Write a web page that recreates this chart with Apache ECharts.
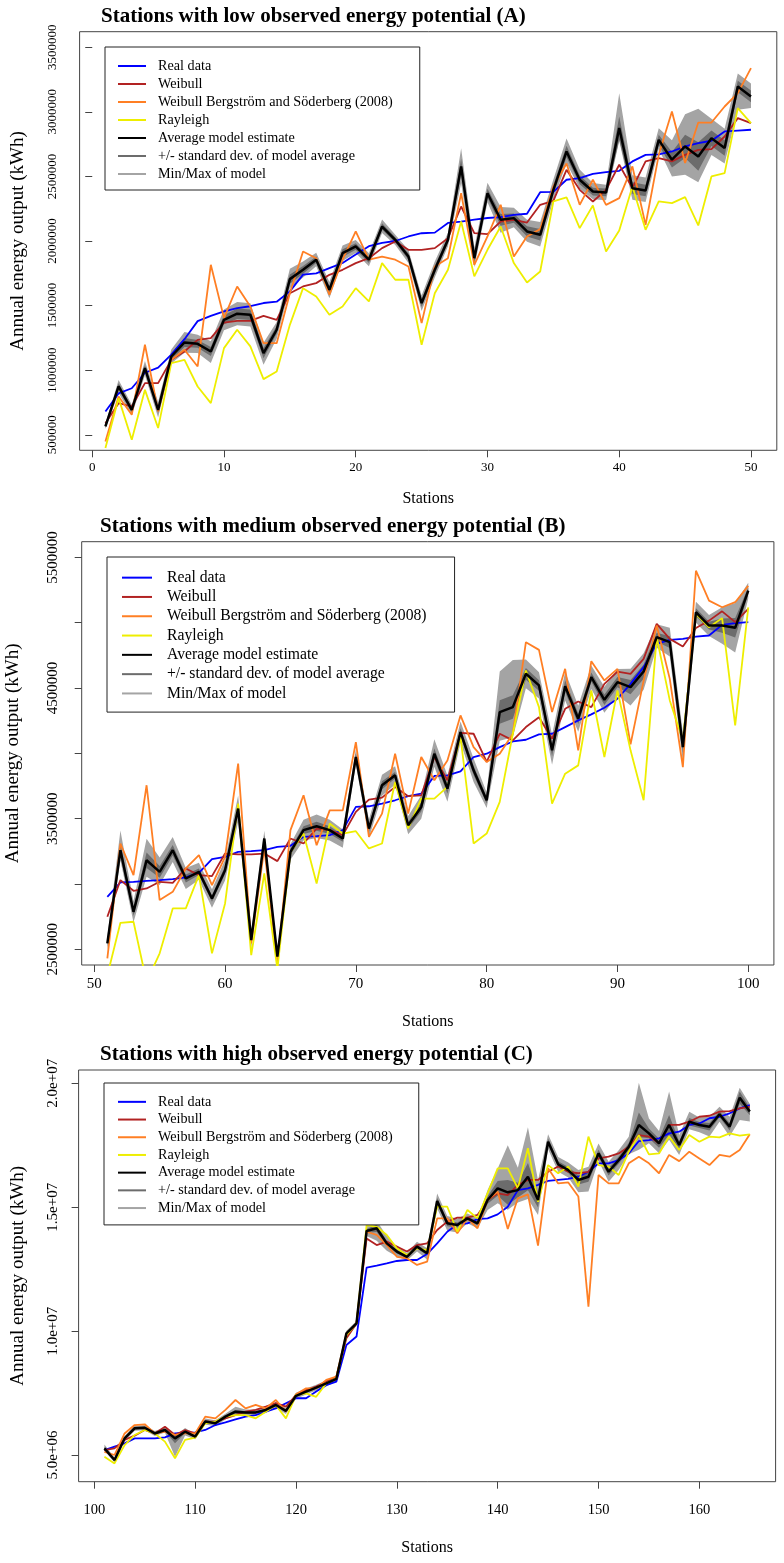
<!DOCTYPE html>
<html>
<head>
<meta charset="utf-8">
<title>Annual energy output by station</title>
<script src="https://cdn.jsdelivr.net/npm/echarts@6.0.0/dist/echarts.min.js"></script>
<style>
  html, body { margin: 0; padding: 0; background: #fff; }
  #main { width: 784px; height: 1563px; }
</style>
</head>
<body>
<div id="main"></div>
<script>
// all energy values below are in millions of kWh
var UNIT = 1e6;

// ---- panel A : stations 1..50
var firstA = 1;
var realA = [0.680, 0.820, 0.860, 0.980, 1.020, 1.120, 1.240, 1.380, 1.420, 1.455,
             1.480, 1.495, 1.520, 1.530, 1.610, 1.740, 1.750, 1.790, 1.830, 1.895,
             1.960, 1.985, 2.000, 2.035, 2.060, 2.065, 2.140, 2.150, 2.165, 2.178,
             2.185, 2.203, 2.211, 2.378, 2.380, 2.474, 2.487, 2.520, 2.533, 2.543,
             2.616, 2.667, 2.670, 2.693, 2.732, 2.758, 2.776, 2.848, 2.855, 2.861];
var weibA = [0.590, 0.745, 0.719, 0.900, 0.900, 1.080, 1.145, 1.235, 1.248, 1.369,
             1.382, 1.382, 1.421, 1.390, 1.596, 1.648, 1.674, 1.738, 1.777, 1.829,
             1.867, 1.945, 1.996, 1.932, 1.932, 1.945, 2.022, 2.267, 2.061, 2.053,
             2.151, 2.164, 2.143, 2.280, 2.311, 2.551, 2.396, 2.306, 2.396, 2.590,
             2.409, 2.616, 2.641, 2.616, 2.667, 2.706, 2.711, 2.809, 2.951, 2.912];
var wbsA  = [0.448, 0.797, 0.655, 1.197, 0.681, 1.080, 1.158, 1.029, 1.816, 1.403,
             1.648, 1.493, 1.209, 1.209, 1.596, 1.919, 1.867, 1.584, 1.855, 2.074,
             1.855, 1.880, 1.855, 1.803, 1.364, 1.803, 1.867, 2.370, 1.816, 2.035,
             2.280, 1.880, 2.035, 2.092, 2.422, 2.600, 2.280, 2.474, 2.280, 2.332,
             2.577, 2.125, 2.667, 3.003, 2.603, 2.917, 2.917, 3.041, 3.144, 3.338];
var rayA  = [0.397, 0.784, 0.461, 0.848, 0.552, 1.055, 1.080, 0.874, 0.745, 1.171,
             1.313, 1.184, 0.931, 0.990, 1.351, 1.635, 1.571, 1.429, 1.493, 1.635,
             1.532, 1.829, 1.700, 1.700, 1.197, 1.596, 1.777, 2.151, 1.726, 1.932,
             2.112, 1.829, 1.679, 1.764, 2.306, 2.337, 2.100, 2.275, 1.919, 2.082,
             2.422, 2.087, 2.306, 2.293, 2.340, 2.120, 2.500, 2.525, 3.028, 2.912];
var avgA  = [0.565, 0.874, 0.693, 1.016, 0.693, 1.106, 1.215, 1.204, 1.145, 1.390,
             1.437, 1.429, 1.132, 1.313, 1.705, 1.777, 1.855, 1.622, 1.906, 1.958,
             1.855, 2.112, 2.009, 1.880, 1.519, 1.777, 2.009, 2.577, 1.867, 2.370,
             2.164, 2.177, 2.074, 2.048, 2.396, 2.693, 2.474, 2.383, 2.376, 2.874,
             2.409, 2.391, 2.783, 2.629, 2.732, 2.654, 2.796, 2.719, 3.196, 3.119];
// band widths around the average (how far the grey reaches above / below)
var sdA   = [0.010, 0.025, 0.020, 0.025, 0.025, 0.025, 0.035, 0.030, 0.035, 0.035,
             0.040, 0.040, 0.040, 0.030, 0.035, 0.030, 0.025, 0.030, 0.030, 0.025,
             0.025, 0.025, 0.020, 0.025, 0.030, 0.030, 0.025, 0.060, 0.035, 0.035,
             0.045, 0.035, 0.040, 0.045, 0.035, 0.045, 0.035, 0.030, 0.030, 0.090,
             0.045, 0.045, 0.040, 0.060, 0.090, 0.110, 0.060, 0.060, 0.045, 0.045];
var mmUpA = [0.020, 0.050, 0.040, 0.055, 0.060, 0.055, 0.080, 0.070, 0.080, 0.080,
             0.090, 0.090, 0.080, 0.060, 0.080, 0.065, 0.055, 0.060, 0.060, 0.050,
             0.050, 0.055, 0.040, 0.050, 0.060, 0.065, 0.055, 0.140, 0.080, 0.080,
             0.100, 0.080, 0.090, 0.100, 0.080, 0.100, 0.080, 0.065, 0.060, 0.270,
             0.100, 0.100, 0.090, 0.150, 0.250, 0.370, 0.150, 0.150, 0.100, 0.100];
var mmDnA = [0.020, 0.050, 0.040, 0.055, 0.060, 0.055, 0.080, 0.070, 0.090, 0.080,
             0.090, 0.090, 0.090, 0.070, 0.070, 0.060, 0.050, 0.065, 0.060, 0.050,
             0.050, 0.050, 0.040, 0.050, 0.060, 0.060, 0.050, 0.130, 0.070, 0.070,
             0.100, 0.070, 0.080, 0.090, 0.080, 0.090, 0.070, 0.060, 0.060, 0.100,
             0.090, 0.090, 0.070, 0.130, 0.220, 0.200, 0.130, 0.120, 0.180, 0.090];
var xTicksA = [0, 10, 20, 30, 40, 50];
var yTicksA = [500000, 1000000, 1500000, 2000000, 2500000, 3000000, 3500000];
var yLabelsA = [500000, 1000000, 1500000, 2000000, 2500000, 3000000, 3500000];

// ---- panel B : stations 51..100
var firstB = 51;
var realB = [2.902, 3.012, 3.017, 3.024, 3.030, 3.037, 3.050, 3.086, 3.190, 3.208,
             3.246, 3.251, 3.259, 3.284, 3.292, 3.361, 3.366, 3.374, 3.412, 3.590,
             3.595, 3.616, 3.641, 3.672, 3.692, 3.827, 3.832, 3.862, 3.972, 3.997,
             4.048, 4.091, 4.104, 4.145, 4.150, 4.201, 4.252, 4.298, 4.349, 4.418,
             4.532, 4.660, 4.838, 4.869, 4.876, 4.894, 4.902, 4.983, 4.996, 5.004];
var weibB = [2.749, 3.030, 2.948, 2.966, 3.017, 3.009, 3.119, 3.068, 3.060, 3.233,
             3.226, 3.226, 3.233, 3.175, 3.348, 3.310, 3.424, 3.412, 3.374, 3.552,
             3.646, 3.661, 3.743, 3.672, 3.679, 3.972, 3.794, 4.156, 4.150, 3.934,
             4.150, 4.099, 4.201, 4.277, 4.112, 4.341, 4.397, 4.354, 4.532, 4.626,
             4.609, 4.723, 4.991, 4.876, 4.818, 4.960, 5.016, 5.087, 5.004, 5.106];
var wbsB  = [2.430, 3.310, 3.068, 3.756, 2.877, 2.940, 3.119, 3.221, 2.991, 3.208,
             3.921, 2.546, 3.272, 2.393, 3.412, 3.679, 3.297, 3.564, 3.564, 4.086,
             3.361, 3.539, 3.997, 3.539, 3.972, 3.794, 3.946, 4.290, 4.048, 3.934,
             3.997, 4.150, 4.851, 4.792, 4.316, 4.647, 4.023, 4.705, 4.558, 4.647,
             4.069, 4.557, 4.978, 4.570, 3.895, 5.398, 5.169, 5.118, 5.157, 5.282];
var rayB  = [2.300, 2.703, 2.711, 2.250, 2.469, 2.813, 2.813, 3.068, 2.469, 2.851,
             3.615, 2.456, 3.081, 2.350, 3.246, 3.386, 3.004, 3.463, 3.386, 3.404,
             3.272, 3.310, 3.781, 3.425, 3.654, 3.654, 3.743, 4.125, 3.310, 3.386,
             3.628, 4.150, 4.634, 4.354, 3.615, 3.844, 3.908, 4.481, 3.972, 4.481,
             4.023, 3.641, 4.889, 4.405, 4.099, 5.067, 4.965, 5.035, 4.214, 5.118];
var avgB  = [2.546, 3.259, 2.787, 3.182, 3.093, 3.259, 3.042, 3.093, 2.889, 3.106,
             3.577, 2.571, 3.348, 2.444, 3.246, 3.412, 3.442, 3.412, 3.348, 3.972,
             3.424, 3.756, 3.832, 3.450, 3.590, 3.997, 3.730, 4.163, 3.870, 3.641,
             4.316, 4.354, 4.609, 4.520, 4.023, 4.514, 4.265, 4.583, 4.410, 4.545,
             4.507, 4.626, 4.889, 4.851, 4.048, 5.080, 4.978, 4.978, 4.961, 5.245];
var sdB   = [0.020, 0.050, 0.030, 0.060, 0.045, 0.040, 0.030, 0.025, 0.025, 0.030,
             0.040, 0.025, 0.025, 0.015, 0.025, 0.030, 0.035, 0.030, 0.025, 0.025,
             0.025, 0.030, 0.025, 0.025, 0.035, 0.040, 0.040, 0.030, 0.035, 0.025,
             0.090, 0.090, 0.045, 0.040, 0.045, 0.045, 0.040, 0.035, 0.040, 0.040,
             0.055, 0.055, 0.035, 0.045, 0.045, 0.030, 0.030, 0.055, 0.075, 0.025];
var mmUpB = [0.050, 0.150, 0.080, 0.165, 0.110, 0.100, 0.080, 0.070, 0.070, 0.080,
             0.100, 0.060, 0.060, 0.040, 0.060, 0.080, 0.090, 0.080, 0.070, 0.060,
             0.070, 0.080, 0.070, 0.070, 0.090, 0.110, 0.100, 0.080, 0.090, 0.060,
             0.310, 0.360, 0.110, 0.100, 0.120, 0.110, 0.100, 0.090, 0.100, 0.100,
             0.140, 0.140, 0.100, 0.110, 0.110, 0.080, 0.080, 0.140, 0.190, 0.060];
var mmDnB = [0.050, 0.080, 0.080, 0.127, 0.100, 0.090, 0.080, 0.060, 0.070, 0.080,
             0.100, 0.060, 0.060, 0.040, 0.060, 0.080, 0.090, 0.080, 0.070, 0.060,
             0.070, 0.080, 0.070, 0.070, 0.090, 0.100, 0.100, 0.080, 0.090, 0.060,
             0.220, 0.230, 0.110, 0.100, 0.110, 0.110, 0.100, 0.090, 0.100, 0.100,
             0.140, 0.140, 0.080, 0.110, 0.110, 0.080, 0.080, 0.140, 0.190, 0.060];
var xTicksB = [50, 60, 70, 80, 90, 100];
var yTicksB = [2500000, 3000000, 3500000, 4000000, 4500000, 5000000, 5500000];
var yLabelsB = [2500000, 3500000, 4500000, 5500000];

// ---- panel C : stations 101..165
var firstC = 101;
var realC = [5.20, 5.34, 5.47, 5.67, 5.67, 5.67, 5.71, 5.87, 5.90, 5.91,
             6.01, 6.21, 6.32, 6.44, 6.55, 6.61, 6.75, 6.88, 7.09, 7.29,
             7.29, 7.56, 7.82, 7.96, 9.44, 9.78, 12.56, 12.64, 12.73, 12.83,
             12.87, 12.87, 13.11, 13.54, 14.01, 14.31, 14.35, 14.52, 14.55, 14.71,
             15.02, 15.69, 15.76, 15.90, 16.06, 16.10, 16.14, 16.23, 16.43, 16.77,
             16.77, 16.90, 17.17, 17.67, 17.71, 17.78, 17.98, 18.05, 18.32, 18.38,
             18.59, 18.65, 18.79, 18.99, 19.12];
var weibC = [5.20, 5.27, 5.61, 5.78, 6.01, 5.87, 6.14, 5.81, 6.01, 5.87,
             6.35, 6.35, 6.48, 6.61, 6.75, 6.82, 6.95, 7.09, 6.95, 7.42,
             7.62, 7.76, 7.96, 8.16, 9.71, 10.31, 13.74, 13.47, 13.61, 13.41,
             13.21, 13.47, 13.54, 14.08, 14.42, 14.58, 14.58, 14.69, 15.29, 15.56,
             15.49, 15.90, 16.10, 16.10, 16.43, 16.64, 16.43, 16.37, 16.43, 16.97,
             17.04, 17.17, 17.44, 17.91, 17.85, 17.58, 18.32, 18.32, 18.45, 18.65,
             18.69, 18.86, 18.88, 18.99, 19.06];
var wbsC  = [5.13, 5.00, 5.87, 6.21, 6.24, 5.87, 5.94, 5.81, 5.87, 5.87,
             6.55, 6.48, 6.82, 7.22, 6.88, 7.02, 6.88, 7.22, 6.75, 7.45,
             7.69, 7.69, 8.03, 8.16, 9.91, 10.31, 14.01, 13.88, 13.47, 13.00,
             12.94, 12.67, 12.80, 14.55, 14.55, 13.95, 14.55, 14.15, 15.29, 15.63,
             14.12, 15.36, 15.52, 13.45, 16.57, 15.96, 16.00, 15.43, 10.99, 16.30,
             15.96, 15.96, 16.77, 17.04, 16.77, 16.37, 17.11, 16.86, 17.24, 16.97,
             16.70, 17.11, 17.04, 17.31, 17.94];
var rayC  = [4.93, 4.66, 5.40, 5.81, 6.01, 5.87, 5.54, 4.87, 5.61, 5.70,
             6.28, 6.35, 6.55, 6.61, 6.61, 6.48, 6.75, 7.02, 6.48, 7.42,
             7.49, 7.35, 7.89, 8.09, 9.84, 10.31, 14.28, 14.21, 13.88, 13.34,
             13.07, 13.34, 13.27, 15.02, 15.02, 14.01, 14.89, 14.55, 15.56, 16.57,
             16.57, 15.76, 17.38, 15.22, 16.70, 16.37, 16.64, 15.83, 17.85, 16.70,
             16.64, 16.30, 17.24, 17.91, 17.13, 17.17, 17.85, 17.31, 17.91, 17.64,
             17.85, 17.82, 17.98, 17.89, 17.94];
var avgC  = [5.27, 4.80, 5.67, 6.08, 6.10, 5.87, 6.01, 5.67, 5.94, 5.74,
             6.35, 6.28, 6.55, 6.75, 6.72, 6.72, 6.82, 7.02, 6.78, 7.39,
             7.56, 7.72, 7.89, 8.07, 9.91, 10.31, 14.04, 14.15, 13.54, 13.21,
             13.00, 13.41, 13.14, 15.25, 14.35, 14.28, 14.55, 14.35, 15.29, 15.76,
             15.60, 15.69, 16.23, 15.29, 17.64, 16.73, 16.50, 16.10, 16.23, 17.17,
             16.43, 16.90, 17.44, 18.32, 17.98, 17.58, 18.32, 17.51, 18.45, 18.32,
             18.25, 18.75, 18.25, 19.42, 18.86];
var sdC   = [0.05, 0.05, 0.05, 0.05, 0.05, 0.05, 0.05, 0.20, 0.05, 0.05,
             0.05, 0.05, 0.05, 0.07, 0.05, 0.05, 0.05, 0.05, 0.05, 0.05,
             0.05, 0.05, 0.05, 0.05, 0.05, 0.05, 0.08, 0.15, 0.10, 0.08,
             0.06, 0.08, 0.08, 0.12, 0.12, 0.10, 0.08, 0.08, 0.15, 0.30,
             0.50, 0.30, 0.55, 0.30, 0.12, 0.12, 0.12, 0.18, 0.20, 0.15,
             0.15, 0.15, 0.15, 0.50, 0.20, 0.18, 0.40, 0.15, 0.15, 0.12,
             0.15, 0.12, 0.15, 0.25, 0.15];
var mmUpC = [0.15, 0.10, 0.10, 0.10, 0.10, 0.10, 0.10, 0.10, 0.15, 0.10,
             0.12, 0.12, 0.12, 0.20, 0.12, 0.12, 0.12, 0.12, 0.12, 0.12,
             0.12, 0.12, 0.12, 0.10, 0.10, 0.10, 0.20, 0.30, 0.30, 0.20,
             0.15, 0.20, 0.20, 0.30, 0.30, 0.25, 0.20, 0.20, 0.40, 0.80,
             1.90, 0.90, 2.00, 0.80, 0.30, 0.30, 0.30, 0.40, 0.40, 0.40,
             0.40, 0.40, 0.40, 1.70, 0.60, 0.50, 1.35, 0.40, 0.40, 0.30,
             0.40, 0.30, 0.40, 0.40, 0.30];
var mmDnC = [0.10, 0.10, 0.10, 0.10, 0.10, 0.10, 0.10, 0.75, 0.15, 0.10,
             0.12, 0.12, 0.12, 0.10, 0.12, 0.12, 0.12, 0.12, 0.12, 0.12,
             0.12, 0.12, 0.12, 0.10, 0.10, 0.10, 0.20, 0.50, 0.30, 0.20,
             0.15, 0.20, 0.25, 0.30, 0.30, 0.30, 0.20, 0.20, 0.40, 0.60,
             0.70, 0.50, 0.90, 0.60, 0.30, 0.30, 0.30, 0.50, 0.60, 0.30,
             0.40, 0.40, 0.30, 1.00, 0.40, 0.40, 0.60, 0.40, 0.30, 0.30,
             0.40, 0.30, 0.40, 0.90, 0.40];
var xTicksC = [100, 110, 120, 130, 140, 150, 160];
var yTicksC = [5000000, 10000000, 15000000, 20000000];
var yLabelsC = [5000000, 10000000, 15000000, 20000000];

var NAMES = {
    real: 'Real data',
    weib: 'Weibull',
    wbs: 'Weibull Bergström and Söderberg (2008)',
    ray: 'Rayleigh',
    avg: 'Average model estimate',
    sd: '+/- standard dev. of model average',
    mm: 'Min/Max of model'
};
var COLORS = {
    real: '#0000ff', weib: '#b22222', wbs: '#ff7f24', ray: '#eeee00',
    avg: '#000000', sd: '#6c6c6c', mm: '#a4a4a4'
};
var ORDER = ['real', 'weib', 'wbs', 'ray', 'avg', 'sd', 'mm'];
var FONT = 'Liberation Serif';

function plainLabel(v) { return String(v); }
function expLabel(v) { return v.toExponential(1).replace(/e\+(\d)$/, 'e+0$1'); }

var panels = [
    { first: firstA, real: realA, weib: weibA, wbs: wbsA, ray: rayA, avg: avgA,
      sd: sdA, mmUp: mmUpA, mmDn: mmDnA, xTicks: xTicksA, yTicks: yTicksA, yLabels: yLabelsA, fmt: plainLabel },
    { first: firstB, real: realB, weib: weibB, wbs: wbsB, ray: rayB, avg: avgB,
      sd: sdB, mmUp: mmUpB, mmDn: mmDnB, xTicks: xTicksB, yTicks: yTicksB, yLabels: yLabelsB, fmt: plainLabel },
    { first: firstC, real: realC, weib: weibC, wbs: wbsC, ray: rayC, avg: avgC,
      sd: sdC, mmUp: mmUpC, mmDn: mmDnC, xTicks: xTicksC, yTicks: yTicksC, yLabels: yLabelsC, fmt: expLabel }
];

// page layout of the three panels (pixels)
var look = [
    { title: 'Stations with low observed energy potential (A)', titleLeft: 101, titleTop: 5,
      grid: { left: 79.6, right: 7.2, top: 31.7, bottom: 1112.7 },
      xMin: -0.96, xMax: 51.96, yMin: 380000, yMax: 3620000,
      xFont: 13, xMargin: 11, yFont: 13, yMargin: 21, yNameGap: 52, xNameGap: 40,
      legend: { left: 105, top: 47, padding: [10, 27, 7, 13], iconW: 28, textPad: 7, font: 14.2, pitch: 18 } },
    { title: 'Stations with medium observed energy potential (B)', titleLeft: 100, titleTop: 515,
      grid: { left: 81.7, right: 10.1, top: 541.7, bottom: 598 },
      xMin: 49.04, xMax: 101.96, yMin: 2380000, yMax: 5620000,
      xFont: 15, xMargin: 12, yFont: 15, yMargin: 21, yNameGap: 59, xNameGap: 49,
      legend: { left: 107, top: 557, padding: [11, 28, 9, 15], iconW: 30, textPad: 10, font: 15.7, pitch: 19.3 } },
    { title: 'Stations with high observed energy potential (C)', titleLeft: 100, titleTop: 1043,
      grid: { left: 78.6, right: 8.4, top: 1070, bottom: 81.3 },
      xMin: 98.44, xMax: 167.56, yMin: 3923000, yMax: 20537000,
      xFont: 14.5, xMargin: 21, yFont: 15, yMargin: 18, yNameGap: 51, xNameGap: 58,
      legend: { left: 104, top: 1083, padding: [10, 26, 8, 14], iconW: 28, textPad: 7, font: 14.2, pitch: 17.7 } }
];

function bandRender(xs, lo, hi, fill) {
    return function (params, api) {
        var pts = [];
        for (var i = 0; i < xs.length; i++) pts.push(api.coord([xs[i], hi[i]]));
        for (var j = xs.length - 1; j >= 0; j--) pts.push(api.coord([xs[j], lo[j]]));
        return { type: 'polygon', shape: { points: pts }, style: { fill: fill } };
    };
}

var option = {
    animation: false,
    backgroundColor: '#ffffff',
    title: [], legend: [], grid: [], xAxis: [], yAxis: [], series: []
};

panels.forEach(function (p, i) {
    var L = look[i];
    var xs = p.real.map(function (v, k) { return p.first + k; });
    var pts = function (arr) {
        return arr.map(function (v, k) { return [xs[k], v * UNIT]; });
    };
    var mmHi = p.avg.map(function (v, k) { return (v + p.mmUp[k]) * UNIT; });
    var mmLo = p.avg.map(function (v, k) { return (v - p.mmDn[k]) * UNIT; });
    var sdHi = p.avg.map(function (v, k) { return (v + p.sd[k]) * UNIT; });
    var sdLo = p.avg.map(function (v, k) { return (v - p.sd[k]) * UNIT; });

    option.title.push({
        text: L.title, left: L.titleLeft, top: L.titleTop, padding: 0,
        textStyle: { fontFamily: FONT, fontWeight: 'bold', fontSize: 21, lineHeight: 24, color: '#000' }
    });

    option.grid.push({
        left: L.grid.left, right: L.grid.right, top: L.grid.top, bottom: L.grid.bottom,
        show: true, borderColor: '#444', borderWidth: 1, backgroundColor: 'transparent',
        containLabel: false, outerBoundsMode: 'none'
    });

    option.xAxis.push({
        type: 'value', gridIndex: i, min: L.xMin, max: L.xMax,
        axisLine: { show: false },
        splitLine: { show: false },
        axisTick: { show: true, inside: false, length: 7, customValues: p.xTicks, lineStyle: { color: '#444', width: 1 } },
        axisLabel: { customValues: p.xTicks, margin: L.xMargin, color: '#000', fontFamily: FONT, fontSize: L.xFont },
        name: 'Stations', nameLocation: 'middle', nameGap: L.xNameGap,
        nameTextStyle: { fontFamily: FONT, fontSize: 16, color: '#000' }
    });

    option.yAxis.push({
        type: 'value', gridIndex: i, min: L.yMin, max: L.yMax,
        axisLine: { show: false },
        splitLine: { show: false },
        axisTick: { show: true, inside: false, length: 7, customValues: p.yTicks, lineStyle: { color: '#444', width: 1 } },
        axisLabel: { customValues: p.yLabels, formatter: p.fmt, rotate: 90, margin: L.yMargin,
                     color: '#000', fontFamily: FONT, fontSize: L.yFont },
        name: 'Annual energy output (kWh)', nameLocation: 'middle', nameRotate: 90, nameGap: L.yNameGap,
        nameTextStyle: { fontFamily: FONT, fontSize: 19, color: '#000' }
    });

    option.legend.push({
        orient: 'vertical', align: 'left', left: L.legend.left, top: L.legend.top,
        padding: L.legend.padding, itemGap: 0, icon: 'rect',
        itemWidth: L.legend.iconW, itemHeight: 2,
        borderColor: '#222', borderWidth: 1, borderRadius: 0, backgroundColor: '#fff',
        selectedMode: false,
        textStyle: { fontFamily: FONT, fontSize: L.legend.font, color: '#000',
                     lineHeight: L.legend.pitch, padding: [0, 0, 0, L.legend.textPad] },
        data: ORDER.map(function (k) { return { name: NAMES[k], itemStyle: { color: COLORS[k] } }; })
    });

    // grey bands first, lines on top
    option.series.push({
        type: 'custom', name: NAMES.mm, xAxisIndex: i, yAxisIndex: i, clip: true, silent: true,
        itemStyle: { color: COLORS.mm }, z: 1,
        data: [[xs[0], mmLo[0]]],
        renderItem: bandRender(xs, mmLo, mmHi, COLORS.mm)
    });
    option.series.push({
        type: 'custom', name: NAMES.sd, xAxisIndex: i, yAxisIndex: i, clip: true, silent: true,
        itemStyle: { color: COLORS.sd }, z: 1,
        data: [[xs[0], sdLo[0]]],
        renderItem: bandRender(xs, sdLo, sdHi, COLORS.sd)
    });

    ['real', 'weib', 'wbs', 'ray', 'avg'].forEach(function (k) {
        option.series.push({
            type: 'line', name: NAMES[k], xAxisIndex: i, yAxisIndex: i,
            data: pts(p[k]), showSymbol: false, symbol: 'none', clip: true, silent: true,
            color: COLORS[k], z: 3,
            lineStyle: { color: COLORS[k], width: k === 'avg' ? 2.5 : 1.8 },
            itemStyle: { color: COLORS[k] }
        });
    });
});

var chart = echarts.init(document.getElementById('main'), null, { renderer: 'canvas' });
chart.setOption(option);
</script>
</body>
</html>
